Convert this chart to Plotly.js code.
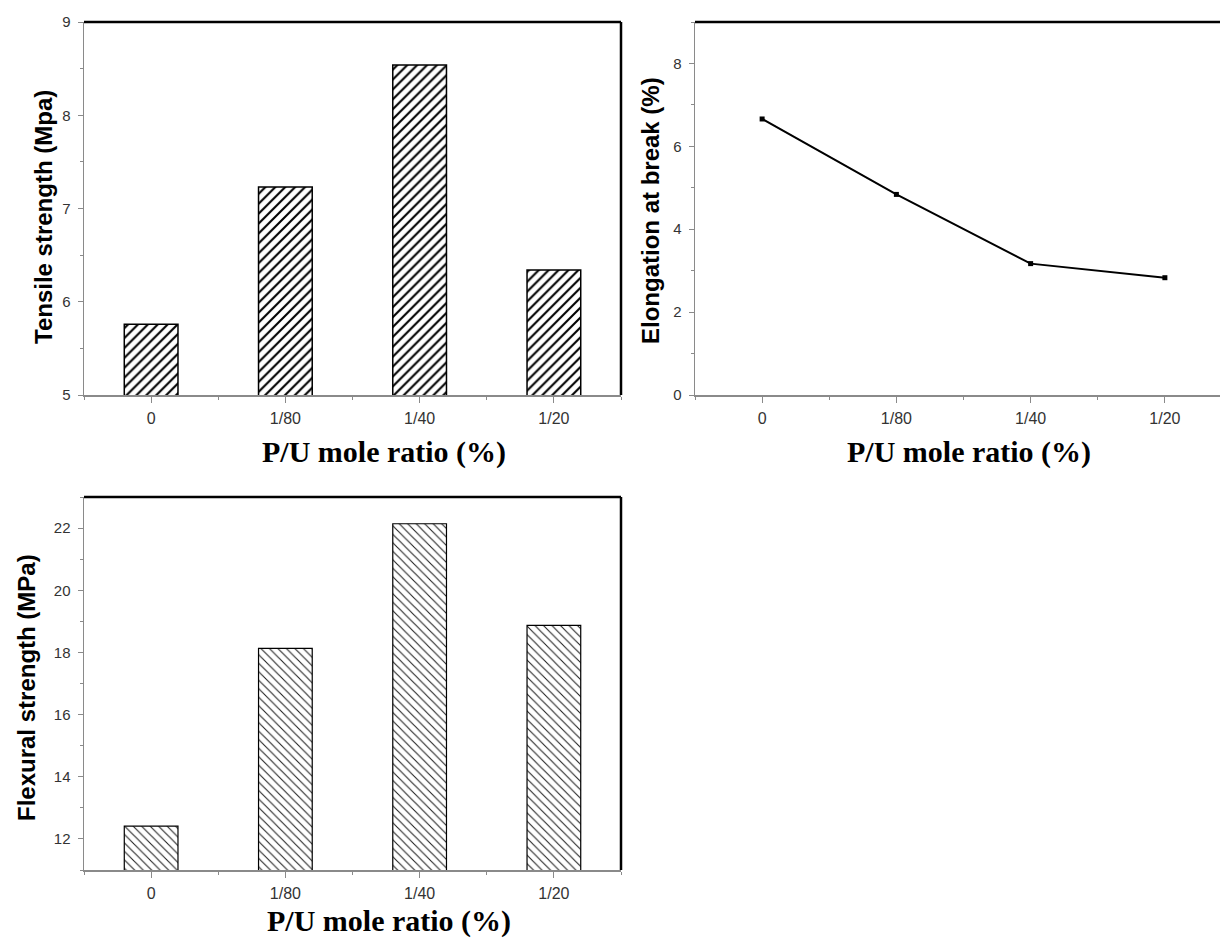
<!DOCTYPE html>
<html>
<head>
<meta charset="utf-8">
<script src="https://cdn.plot.ly/plotly-3.0.1.min.js"></script>
<style>
html,body{margin:0;padding:0;overflow:hidden;background:#fff;}
#chart{width:1250px;height:939px;}
</style>
</head>
<body>
<div id="chart"></div>
<script>
// ---- data ----
const categories = ["0", "1/80", "1/40", "1/20"];
const tensileStrength = [5.76, 7.23, 8.54, 6.34];      // MPa
const elongationAtBreak = [6.66, 4.84, 3.17, 2.83];    // %
const flexuralStrength = [12.41, 18.13, 22.14, 18.87]; // MPa

const xTitle = "P/U mole ratio (%)";
const yTitles = ["Tensile strength (Mpa)", "Elongation at break (%)", "Flexural strength (MPa)"];

// ---- layout helpers ----
const W = 1250, H = 939;
const px = v => v / W;
const py = v => 1 - v / H;
const idx = categories.map((c, i) => i);

const tickFont = {family: "Liberation Sans, Arial, sans-serif", size: 16, color: "#333"};
const axisGray = "#8a8a8a";

function xAxis(domain, anchor) {
  return {
    domain: domain, anchor: anchor,
    range: [-0.5, 3.5], tickmode: "array", tickvals: idx, ticktext: categories,
    showline: true, linecolor: axisGray, linewidth: 1.5,
    ticks: "outside", ticklen: 6, tickwidth: 1, tickcolor: axisGray,
    minor: {tickmode: "linear", tick0: -0.5, dtick: 1, ticks: "outside", ticklen: 3, tickcolor: axisGray, showgrid: false},
    showgrid: false, zeroline: false, tickfont: tickFont, ticklabelstandoff: 2, fixedrange: true
  };
}
function yAxis(domain, anchor, range, dtick) {
  return {
    domain: domain, anchor: anchor, range: range, dtick: dtick, tick0: 0,
    showline: true, linecolor: axisGray, linewidth: 1.5,
    ticks: "outside", ticklen: 5, tickwidth: 1, tickcolor: axisGray,
    minor: {dtick: dtick / 2, ticks: "outside", ticklen: 3, tickcolor: axisGray, showgrid: false},
    showgrid: false, zeroline: false, tickfont: {family: tickFont.family, size: 15, color: "#333"},
    ticklabelstandoff: 4, fixedrange: true
  };
}

const xdTop = [px(84), px(621)], xdTR = [px(695), px(1232)];
const ydTop = [py(395), py(22)], ydBot = [py(870), py(497)];

const traces = [
  {type: "bar", x: idx, y: tensileStrength, xaxis: "x", yaxis: "y", width: 0.4,
   marker: {color: "white", line: {color: "black", width: 1.5},
            pattern: {shape: "/", fgcolor: "black", bgcolor: "white", size: 7, solidity: 0.3}}},
  {type: "scatter", mode: "lines+markers", x: idx, y: elongationAtBreak, xaxis: "x2", yaxis: "y2",
   line: {color: "black", width: 2}, marker: {symbol: "square", size: 5, color: "black"}},
  {type: "bar", x: idx, y: flexuralStrength, xaxis: "x3", yaxis: "y3", width: 0.4,
   marker: {color: "white", line: {color: "black", width: 1.2},
            pattern: {shape: "\\", fgcolor: "#222", bgcolor: "white", size: 6, solidity: 0.18}}}
];

function frame(xr, yr) {
  return [
    {type: "line", xref: xr + " domain", yref: yr + " domain", x0: 0, x1: 1, y0: 1, y1: 1, line: {color: "black", width: 2.5}},
    {type: "line", xref: xr + " domain", yref: yr + " domain", x0: 1, x1: 1, y0: 0, y1: 1, line: {color: "black", width: 2.5}}
  ];
}

const xtFont = {family: "Liberation Serif, Times New Roman, serif", size: 30, color: "black"};
const ytFont = {family: "Liberation Sans, Arial, sans-serif", size: 24, color: "black"};
function ann(text, x, y, font, angle) {
  return {text: "<b>" + text + "</b>", xref: "paper", yref: "paper", x: px(x), y: py(y),
          xanchor: "center", yanchor: "middle", showarrow: false, font: font, textangle: angle || 0};
}

const layout = {
  width: W, height: H, margin: {l: 0, r: 0, t: 0, b: 0},
  paper_bgcolor: "white", plot_bgcolor: "white", showlegend: false,
  xaxis: xAxis(xdTop, "y"), yaxis: yAxis(ydTop, "x", [5, 9], 1),
  xaxis2: xAxis(xdTR, "y2"), yaxis2: yAxis(ydTop, "x2", [0, 9], 2),
  xaxis3: xAxis(xdTop, "y3"), yaxis3: yAxis(ydBot, "x3", [11, 23], 2),
  shapes: [].concat(frame("x", "y"), frame("x2", "y2"), frame("x3", "y3")),
  annotations: [
    ann(xTitle, 384, 452, xtFont), ann(xTitle, 969, 452, xtFont), ann(xTitle, 389, 921, xtFont),
    ann(yTitles[0], 43, 217, ytFont, -90), ann(yTitles[1], 650, 211, ytFont, -90), ann(yTitles[2], 26, 688, ytFont, -90)
  ]
};

Plotly.newPlot("chart", traces, layout, {displayModeBar: false, staticPlot: true});
</script>
</body>
</html>
